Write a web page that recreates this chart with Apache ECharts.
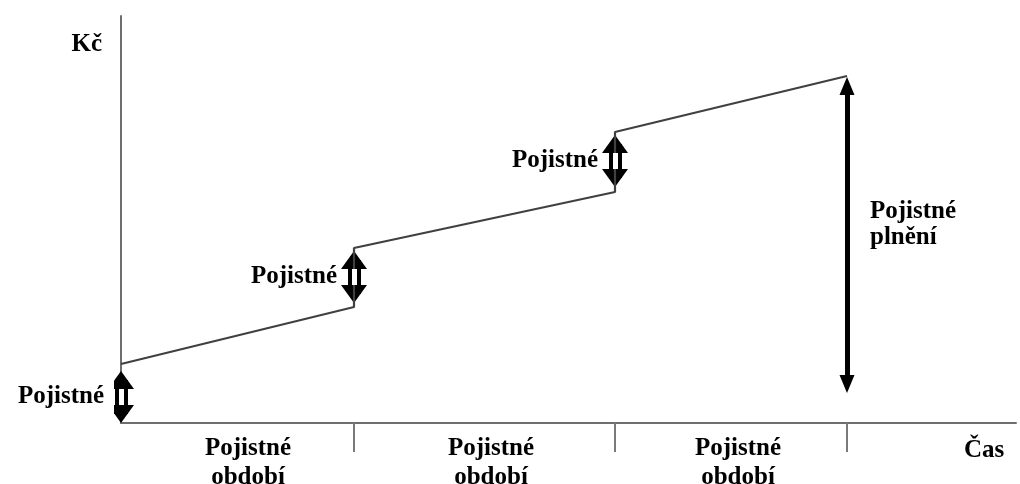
<!DOCTYPE html>
<html>
<head>
<meta charset="utf-8">
<script src="https://cdn.jsdelivr.net/npm/echarts@6/dist/echarts.min.js"></script>
<style>
html,body{margin:0;padding:0;background:#fff;}
#c{width:1020px;height:484px;}
</style>
</head>
<body>
<div id="c"></div>
<script>
// Period boundaries on the time axis (Čas)
const boundaries = [0, 233, 494, 726];
// Savings value at the start of each period (after premium paid) and at its end
const valueStart = [59, 175, 291];
const valueEnd = [116, 231, 347];
// Premium (Pojistné) arrows: x position, bottom tip and top tip
const premiumX = [0, 233, 494];
const premiumLow = [0, 120, 236];
const premiumHigh = [52, 172, 288];
// Benefit (Pojistné plnění) arrow
const payoutX = [726];
const payoutLow = [30];
const payoutHigh = [346];
// Tick labels under the time axis
const periodLabelPos = [127, 370, 617];
const periodLabels = ['Pojistné\nobdobí', 'Pojistné\nobdobí', 'Pojistné\nobdobí'];
const tickPos = [233, 494, 726];
const premiumLabel = 'Pojistné';
const payoutLabel = 'Pojistné\nplnění';
const yName = 'Kč';
const xName = 'Čas';

const FONT = 'Liberation Serif';
const FS = 25;
const chart = echarts.init(document.getElementById('c'));

const linePts = [];
for (let i = 0; i < valueStart.length; i++) {
  linePts.push([boundaries[i], valueStart[i]]);
  linePts.push([boundaries[i + 1], valueEnd[i]]);
}

// arrow heads are centred on the line ends, so pull the ends in by half a head
const HEAD_S = 18, HEAD_P = 18;
const premiumOuter = premiumX.map((x, i) => ({coords: [[x, premiumLow[i] + HEAD_S / 2], [x, premiumHigh[i] - HEAD_S / 2]]}));
const premiumInner = premiumX.map((x, i) => ({coords: [[x, premiumLow[i] + HEAD_S], [x, premiumHigh[i] - HEAD_S]]}));
const payoutLines = payoutX.map((x, i) => ({coords: [[x, payoutLow[i] + HEAD_P / 2], [x, payoutHigh[i] - HEAD_P / 2]]}));

const textStyle = {fontFamily: FONT, fontWeight: 'bold', fontSize: FS, color: '#000', textBorderWidth: 0};

chart.setOption({
  animation: false,
  backgroundColor: '#fff',
  grid: {left: 121, right: 4, top: 16, bottom: 61, outerBoundsMode: 'none', containLabel: false},
  xAxis: {
    type: 'value', min: 0, max: 895,
    name: xName, nameLocation: 'end', nameGap: -52,
    nameTextStyle: Object.assign({}, textStyle, {align: 'left', verticalAlign: 'top', lineHeight: 55}),
    axisLine: {show: true, lineStyle: {color: '#6e6e6e', width: 2}},
    axisTick: {show: true, customValues: tickPos, length: 29, lineStyle: {color: '#7a7a7a', width: 2}},
    axisLabel: {
      show: true, customValues: periodLabelPos, margin: 11, lineHeight: 29,
      fontFamily: FONT, fontWeight: 'bold', fontSize: FS, color: '#000',
      formatter: function (v) { const k = periodLabelPos.indexOf(v); return k >= 0 ? periodLabels[k] : ''; }
    },
    splitLine: {show: false}
  },
  yAxis: {
    type: 'value', min: 0, max: 407,
    name: yName, nameLocation: 'end', nameGap: -16,
    nameTextStyle: Object.assign({}, textStyle, {align: 'right', verticalAlign: 'top', padding: [0, 19, 0, 0]}),
    axisLine: {show: true, lineStyle: {color: '#6e6e6e', width: 2}},
    axisTick: {show: false}, axisLabel: {show: false}, splitLine: {show: false}
  },
  series: [
    {
      type: 'line', data: linePts, symbol: 'none',
      lineStyle: {color: '#404040', width: 2.2}
    },
    {
      type: 'lines', coordinateSystem: 'cartesian2d', data: payoutLines,
      symbol: ['triangle', 'triangle'], symbolSize: [[15, HEAD_P], [15, HEAD_P]],
      lineStyle: {color: '#000', width: 5, opacity: 1}, itemStyle: {color: '#000'}, z: 3
    },
    {
      type: 'lines', coordinateSystem: 'cartesian2d', data: premiumOuter,
      symbol: ['triangle', 'triangle'], symbolSize: [[26, HEAD_S], [26, HEAD_S]],
      lineStyle: {color: '#000', width: 13, opacity: 1}, itemStyle: {color: '#000'}, z: 3
    },
    {
      type: 'lines', coordinateSystem: 'cartesian2d', data: premiumInner,
      symbol: 'none', lineStyle: {color: '#fff', width: 5, opacity: 1}, z: 4
    },
    {
      type: 'scatter', symbolSize: 0, z: 5, itemStyle: {opacity: 1},
      data: premiumX.map((x, i) => ({name: premiumLabel, value: [x, (premiumLow[i] + premiumHigh[i]) / 2]})),
      label: Object.assign({show: true, position: 'left', distance: 17, formatter: '{b}'}, textStyle)
    },
    {
      type: 'scatter', symbolSize: 0, z: 5, itemStyle: {opacity: 1},
      data: payoutX.map((x, i) => ({name: payoutLabel, value: [x, (payoutLow[i] + payoutHigh[i]) / 2]})),
      label: Object.assign({show: true, position: 'right', distance: 23, offset: [0, -10], lineHeight: 26, formatter: '{b}'}, textStyle)
    }
  ]
});
</script>
</body>
</html>
